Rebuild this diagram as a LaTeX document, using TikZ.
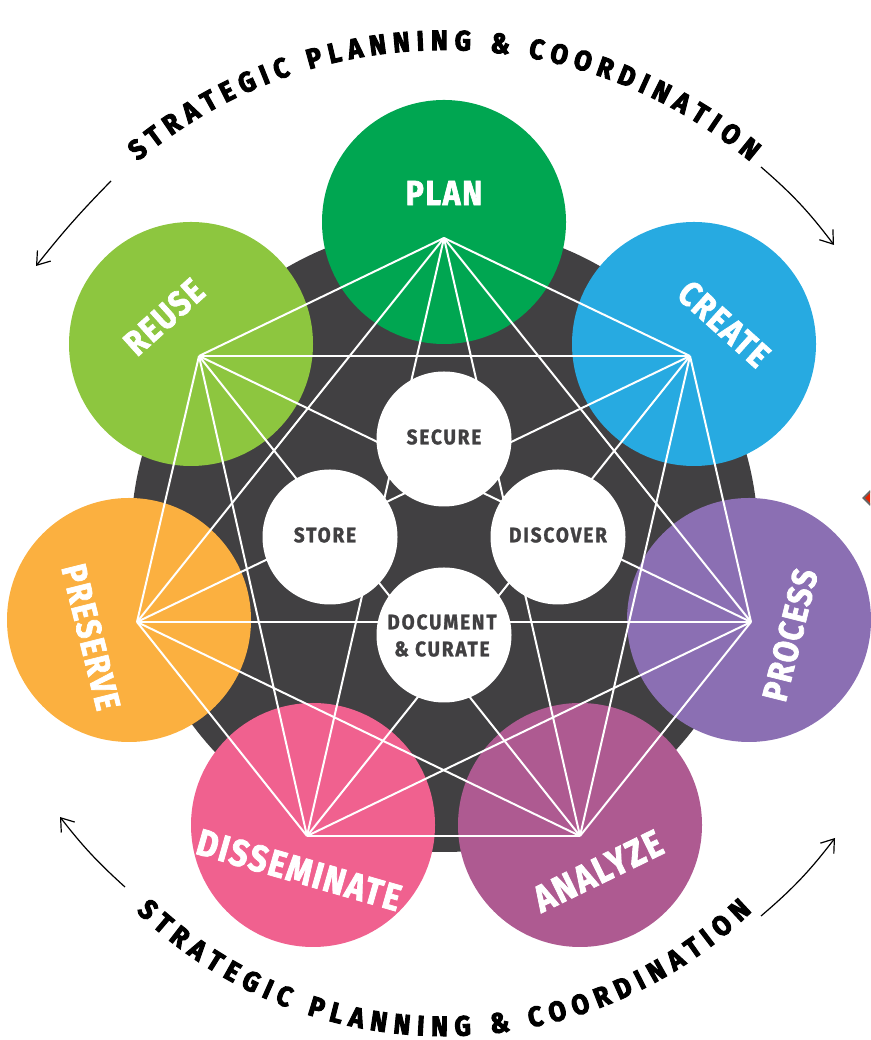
\documentclass[tikz,border=0pt]{standalone}
\usepackage{fontspec}
\usetikzlibrary{decorations.text,arrows.meta,shapes.geometric}
\newfontfamily\dispfont[FakeStretch=0.86,LetterSpace=5,FakeBold=2]{Fira Sans}
\newfontfamily\hubfont[FakeStretch=0.9,LetterSpace=9,FakeBold=1.5]{Fira Sans}
\newfontfamily\arcfont[FakeStretch=0.9,FakeBold=3.5]{Fira Sans}
\definecolor{cplan}{HTML}{00A651}
\definecolor{ccreate}{HTML}{27AAE1}
\definecolor{cprocess}{HTML}{8B6FB3}
\definecolor{canalyze}{HTML}{AE5A91}
\definecolor{cdissem}{HTML}{F0618F}
\definecolor{cpreserve}{HTML}{FBB040}
\definecolor{creuse}{HTML}{8DC63F}
\definecolor{cdark}{HTML}{414042}
\tikzset{
  stage/.style={circle,inner sep=0pt,minimum size=244pt},
  hub/.style={circle,fill=white,inner sep=0pt,minimum size=135pt},
  stagetext/.style={text=white,font=\dispfont\fontsize{35}{35}\selectfont\bfseries,inner sep=0pt},
  hubtext/.style={text=cdark,font=\hubfont\fontsize{21}{27}\selectfont\bfseries,inner sep=0pt,align=center},
  edgeline/.style={draw=white,line width=2pt},
  flow/.style={draw=black,line width=1.2pt,-{Straight Barb[length=12pt,width=17pt,line width=1.2pt]}},
  arctext/.style={decorate,decoration={text along path,text align={fit to path},
    text={|\arcfont\fontsize{28}{28}\selectfont\bfseries|STRATEGIC PLANNING {\&} COORDINATION}}}
}
\begin{document}
\begin{tikzpicture}[x=1pt,y=1pt]
\useasboundingbox (0,0) rectangle (870,1040);
\begin{scope}
\clip (0,0) rectangle (870,1040);
\node[diamond,fill=red!70!orange!90!black,draw=gray!80!black,line width=2pt,minimum size=32pt,inner sep=0pt] (marker) at (879,542) {};
\end{scope}
\node[circle,fill=cdark,inner sep=0pt,minimum size=627pt] (disc) at (444.5,501.5) {};
% stage discs
\node[stage,fill=cplan] (plan) at (444,818) {};
\node[stage,fill=ccreate] (create) at (694,696) {};
\node[stage,fill=cprocess] (process) at (749,420) {};
\node[stage,fill=canalyze] (analyze) at (580,215) {};
\node[stage,fill=cdissem] (dissem) at (313,215) {};
\node[stage,fill=cpreserve] (preserve) at (129,420) {};
\node[stage,fill=creuse] (reuse) at (191,696) {};
% star vertices
\coordinate (v1) at (444,802);
\coordinate (v2) at (690,684);
\coordinate (v3) at (751,418);
\coordinate (v4) at (580,204);
\coordinate (v5) at (307,204);
\coordinate (v6) at (137,418);
\coordinate (v7) at (199,684);
\foreach \a/\b in {v1/v2,v1/v3,v1/v4,v1/v5,v1/v6,v1/v7,v2/v3,v2/v4,v2/v5,v2/v6,v2/v7,v3/v4,v3/v5,v3/v6,v3/v7,v4/v5,v4/v6,v4/v7,v5/v6,v5/v7,v6/v7}
  \draw[edgeline] (\a) -- (\b);
% hubs
\node[hub] (secure) at (444,601) {};
\node[hub] (store) at (330,503) {};
\node[hub] (discover) at (558,503) {};
\node[hub] (document) at (444,405) {};
\node[hubtext] (tsecure) at (444,603) {SECURE};
\node[hubtext] (tstore) at (325,505) {STORE};
\node[hubtext] (tdiscover) at (558,505) {DISCOVER};
\node[hubtext] (tdocument) at (442,404.5) {DOCUMENT\\\& CURATE};
% stage labels
\node[stagetext] (tplan) at (444,847) {PLAN};
\node[stagetext,rotate=-42] (tcreate) at (724,716) {CREATE};
\node[stagetext,rotate=76] (tprocess) at (790,405) {PROCESS};
\node[stagetext,rotate=26,scale=1.08] (tanalyze) at (598,169) {ANALYZE};
\node[stagetext,rotate=-16,scale=1.07] (tdissem) at (299,170) {DISSEMINATE};
\node[stagetext,rotate=-76] (tpreserve) at (91,403) {PRESERVE};
\node[stagetext,rotate=42] (treuse) at (164,723) {REUSE};
% curved text
\coordinate (topc) at (444,514);
\coordinate (botc) at (444,447);
\path[arctext] (topc) ++(130:476pt) arc[start angle=130,end angle=50,radius=476pt];
\path[arctext] (botc) ++(226:443pt) arc[start angle=226,end angle=314,radius=443pt];
% flow arrows
\coordinate (a1S) at (111,859); \coordinate (a1E) at (36,774);
\coordinate (a2S) at (761,873); \coordinate (a2E) at (834,795);
\coordinate (a3S) at (125,153); \coordinate (a3E) at (60,223);
\coordinate (a4S) at (761,124); \coordinate (a4E) at (835,202);
\draw[flow] (a1S) to[bend right=3] (a1E);
\draw[flow] (a2S) to[bend left=6] (a2E);
\draw[flow] (a3S) to[bend left=5] (a3E);
\draw[flow] (a4S) to[bend right=6] (a4E);
\end{tikzpicture}
\end{document}
